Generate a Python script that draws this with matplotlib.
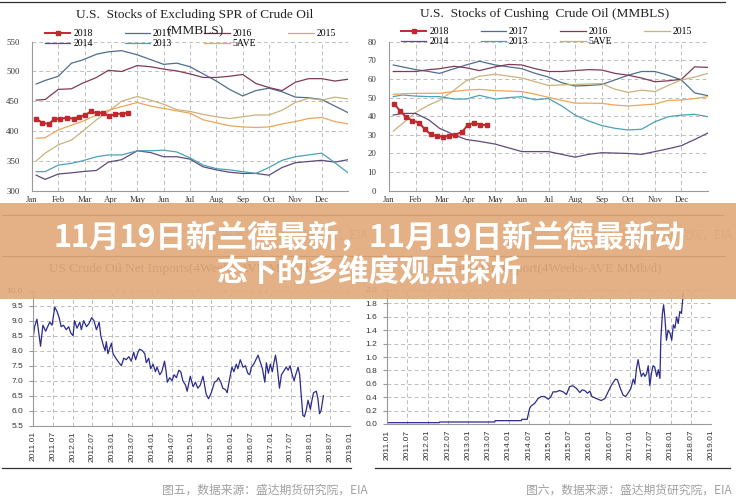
import numpy as np
import matplotlib
matplotlib.use('Agg')
import matplotlib.pyplot as plt
from matplotlib.patches import Rectangle
from matplotlib.lines import Line2D

W, H = 736, 503
SERIF = 'Liberation Serif'
SANS = 'Liberation Sans'
CJK = ['Noto Sans CJK SC', 'DejaVu Sans']

#%% Datos - stocks (x en meses, Jan = 0)
months = ['Jan', 'Feb', 'Mar', 'Apr', 'May', 'Jun', 'Jul', 'Aug', 'Sep', 'Oct', 'Nov', 'Dec']
season_x = [0.16, 0.5, 1.0, 1.5, 1.9, 2.45, 2.9, 3.4, 4.0, 4.5, 5.0, 5.5, 6.0,
            6.5, 7.0, 7.5, 8.0, 8.5, 9.0, 9.5, 10.0, 10.5, 11.0, 11.5, 12.0]

ex_2018_x = [0.16, 0.38, 0.63, 0.85, 1.05, 1.33, 1.58, 1.79, 2.02, 2.24, 2.46, 2.69, 2.94, 3.16, 3.41, 3.66]
ex_2018 = [421, 414, 412, 420, 421, 422, 421, 424, 427, 433, 430, 431, 425, 429, 429, 431]
ex_2017 = [479, 485, 492, 514, 519, 529, 533, 535, 528, 520, 512, 514, 508,
           496, 484, 470, 459, 468, 472, 466, 457, 456, 453, 442, 431]
ex_2016 = [452, 453, 470, 471, 480, 490, 502, 500, 510, 508, 504, 501, 496,
           490, 490, 492, 495, 480, 473, 468, 482, 488, 488, 484, 487]
ex_2015 = [350, 363, 377, 385, 399, 419, 433, 450, 458, 452, 445, 436, 433,
           428, 424, 421, 424, 427, 427, 435, 448, 455, 452, 457, 454]
ex_2014 = [326, 319, 328, 330, 332, 334, 348, 352, 367, 364, 357, 357, 353,
           340, 335, 331, 329, 329, 326, 339, 347, 349, 351, 348, 352]
ex_2013 = [332, 332, 343, 346, 350, 357, 360, 360, 367, 367, 368, 365, 355,
           343, 337, 335, 332, 329, 339, 351, 357, 360, 363, 347, 330]
ex_5ave = [388, 389, 402, 410, 416, 427, 435, 441, 448, 442, 438, 434, 430,
           419, 414, 409, 407, 406, 407, 412, 416, 421, 423, 416, 412]

cu_2018_x = [0.20, 0.41, 0.63, 0.88, 1.13, 1.35, 1.58, 1.79, 2.04, 2.25, 2.48, 2.76, 2.96, 3.21, 3.43, 3.67]
cu_2018 = [46.5, 43, 39.7, 37.6, 36.5, 32.9, 30.2, 29.4, 29, 29.4, 29.9, 31.7, 35.3, 36.5, 35.3, 35.3]
cu_2017 = [67.5, 66.5, 65, 64, 63, 65.5, 67.5, 69.5, 67.5, 66.5, 65.5, 63, 61,
           58, 56.2, 56.5, 57, 59.5, 62, 64, 64, 62, 59.5, 52.5, 51]
cu_2016 = [64, 64, 64, 65, 65.5, 66.8, 66, 64.5, 66.5, 67.8, 67.5, 65.5, 64,
           64, 64.5, 65, 64.8, 63, 62, 60.5, 58.5, 59, 59.8, 66.5, 66.2]
cu_2015 = [32, 36, 42, 46, 48.5, 54, 59, 61.5, 62.5, 61.5, 60.5, 58.5, 56.5,
           56.8, 57, 57.3, 57.5, 54.5, 52.8, 54, 53.2, 56.5, 59.5, 61, 63]
cu_2014 = [40.6, 41.5, 41.5, 38, 33.5, 30, 27.5, 26.5, 25, 23, 21, 21, 21,
           19.5, 18, 19.5, 20.4, 20.2, 20, 19.5, 21, 22.5, 24.2, 27.5, 31]
cu_2013 = [50.5, 51.4, 50.8, 50.5, 50.5, 49.2, 49.2, 51.2, 49.2, 50, 50.5, 48.8, 49.5,
           45.5, 40.6, 37.5, 35, 33.5, 32.6, 33, 37, 39.7, 40.6, 41, 39.7]
cu_5ave = [51.7, 52, 52.3, 52.3, 52.3, 53.3, 54, 54.4, 53.7, 53.5, 53.2, 51.8, 50.1,
           48.5, 47, 47, 46.9, 46, 45.5, 46, 46.5, 48.5, 48.7, 49.5, 50.5]

#%% Datos - importaciones / exportaciones (x en años)
imp_t = [2011.00, 2011.04, 2011.10, 2011.19, 2011.25, 2011.32, 2011.42, 2011.48, 2011.55, 2011.61,
         2011.66, 2011.71, 2011.77, 2011.84, 2011.90, 2011.95, 2012.01, 2012.05, 2012.11, 2012.18,
         2012.22, 2012.28, 2012.35, 2012.41, 2012.48, 2012.54, 2012.60, 2012.67, 2012.71, 2012.77,
         2012.82, 2012.85, 2012.89, 2012.98, 2013.02, 2013.09, 2013.17, 2013.23, 2013.29, 2013.35,
         2013.42, 2013.48, 2013.54, 2013.59, 2013.65, 2013.69, 2013.76, 2013.82, 2013.86, 2013.92,
         2013.97, 2014.03, 2014.09, 2014.13, 2014.20, 2014.25, 2014.32, 2014.36, 2014.39, 2014.45,
         2014.51, 2014.56, 2014.62, 2014.68, 2014.73, 2014.78, 2014.85, 2014.89, 2014.97, 2015.04,
         2015.10, 2015.16, 2015.22, 2015.29, 2015.37, 2015.43, 2015.50, 2015.58, 2015.64, 2015.68,
         2015.74, 2015.79, 2015.86, 2015.90, 2015.96, 2016.02, 2016.07, 2016.13, 2016.17, 2016.23,
         2016.30, 2016.36, 2016.42, 2016.47, 2016.51, 2016.57, 2016.68, 2016.74, 2016.79, 2016.85,
         2016.89, 2016.94, 2016.99, 2017.04, 2017.08, 2017.12, 2017.16, 2017.22, 2017.27, 2017.32,
         2017.39, 2017.44, 2017.49, 2017.53, 2017.59, 2017.63, 2017.69, 2017.73, 2017.77, 2017.81,
         2017.85, 2017.90, 2017.94, 2018.00, 2018.04, 2018.08, 2018.15, 2018.19, 2018.23, 2018.27,
         2018.33]
imp_v = [8.40, 8.80, 9.05, 8.15, 8.85, 8.65, 8.95, 8.85, 9.45, 9.30,
         9.10, 8.80, 8.85, 8.70, 8.80, 8.60, 8.50, 9.00, 8.75, 8.95,
         8.70, 9.00, 8.80, 8.90, 9.10, 9.00, 8.70, 8.95, 8.50, 8.20,
         8.00, 8.30, 7.90, 8.25, 7.90, 7.75, 7.60, 7.50, 7.75, 7.70,
         7.80, 7.65, 7.95, 7.70, 7.95, 8.05, 8.00, 7.90, 7.60, 7.75,
         7.40, 7.55, 7.30, 7.45, 7.20, 7.30, 7.65, 7.30, 6.95, 7.10,
         7.00, 7.20, 7.10, 7.35, 7.30, 7.00, 6.85, 6.65, 7.15, 6.80,
         6.95, 6.75, 6.85, 7.15, 6.55, 6.40, 6.60, 6.95, 7.00, 7.10,
         6.95, 6.75, 6.70, 6.60, 7.05, 7.45, 7.30, 7.55, 7.40, 7.70,
         7.45, 7.50, 7.25, 7.20, 7.45, 7.55, 7.85, 7.60, 7.40, 6.95,
         7.60, 7.25, 7.55, 7.30, 7.60, 7.85, 7.50, 6.75, 7.20, 7.30,
         7.45, 7.35, 7.50, 7.25, 7.00, 7.20, 7.45, 7.20, 6.50, 5.85,
         5.80, 6.05, 6.35, 6.05, 6.35, 6.60, 6.65, 6.40, 5.90, 6.00,
         6.50]

exp_t = [2011.00, 2012.29, 2012.30, 2013.66, 2013.67, 2014.32, 2014.33, 2014.46, 2014.52, 2014.56,
         2014.65, 2014.73, 2014.81, 2014.89, 2014.98, 2015.04, 2015.10, 2015.18, 2015.26, 2015.35,
         2015.43, 2015.51, 2015.59, 2015.68, 2015.76, 2015.82, 2015.88, 2015.95, 2016.01, 2016.06,
         2016.17, 2016.29, 2016.38, 2016.46, 2016.54, 2016.64, 2016.69, 2016.75, 2016.83, 2016.89,
         2016.95, 2017.02, 2017.08, 2017.12, 2017.16, 2017.20, 2017.24, 2017.28, 2017.33, 2017.37,
         2017.41, 2017.45, 2017.49, 2017.53, 2017.57, 2017.61, 2017.66, 2017.70, 2017.74, 2017.76,
         2017.80, 2017.83, 2017.86, 2017.90, 2017.94, 2017.99, 2018.03, 2018.07, 2018.11, 2018.15,
         2018.19, 2018.23, 2018.27, 2018.30, 2018.32]
exp_v = [0.02, 0.02, 0.03, 0.03, 0.05, 0.05, 0.07, 0.07, 0.23, 0.27,
         0.31, 0.38, 0.41, 0.41, 0.37, 0.40, 0.48, 0.48, 0.50, 0.48,
         0.44, 0.56, 0.57, 0.53, 0.47, 0.51, 0.50, 0.46, 0.49, 0.41,
         0.38, 0.35, 0.38, 0.48, 0.58, 0.67, 0.66, 0.55, 0.43, 0.41,
         0.46, 0.53, 0.67, 0.60, 0.83, 0.96, 0.82, 0.71, 0.76, 0.71,
         0.75, 0.87, 0.57, 0.76, 0.87, 0.85, 0.71, 0.81, 0.68, 1.25,
         1.65, 1.78, 1.60, 1.25, 1.40, 1.35, 1.25, 1.48, 1.43, 1.60,
         1.50, 1.68, 1.65, 1.85, 1.95]
year_ticks = [2011 + 0.5 * i for i in range(17)]
year_labels = ['%d.%s' % (2011 + i // 2, '01' if i % 2 == 0 else '07') for i in range(17)]

# colores
c18, c17, c16, c15 = '#C1272D', '#4E6E90', '#7E3B58', '#C9B27C'
c14, c13, cave = '#5F4A7C', '#4AA2B8', '#EBA65A'
cnavy = '#2B2B8E'
cgrid = '#BDBDBD'

#%% Funciones
def px_ax(l, t, r, b):
    return fig.add_axes([l / W, 1 - b / H, (r - l) / W, (b - t) / H])

def hline(y, x0, x1):
    fig.add_artist(Line2D([x0 / W, x1 / W], [1 - y / H, 1 - y / H], transform=fig.transFigure,
                          color='#333333', lw=0.9))

def style_ax(ax, fam, size):
    ax.grid(True, color=cgrid, ls=(0, (4, 3)), lw=0.7)
    ax.set_axisbelow(True)
    for s in ['top', 'right']:
        ax.spines[s].set_visible(False)
    for s in ['left', 'bottom']:
        ax.spines[s].set_color('#9A9A9A')
        ax.spines[s].set_linewidth(0.8)
    for lab in ax.get_xticklabels() + ax.get_yticklabels():
        lab.set_family(fam)
        lab.set_fontsize(size)
        lab.set_color('#333333')

def season_chart(ax, x18, y18, s17, s16, s15, s14, s13, save, ylim, ystep):
    h18, = ax.plot(x18, y18, color=c18, lw=1.4, marker='s', ms=3.2, label='2018', zorder=5)
    h17, = ax.plot(season_x, s17, color=c17, lw=0.9, label='2017')
    h16, = ax.plot(season_x, s16, color=c16, lw=0.9, label='2016')
    h15, = ax.plot(season_x, s15, color=c15, lw=0.9, label='2015')
    h14, = ax.plot(season_x, s14, color=c14, lw=0.9, label='2014')
    h13, = ax.plot(season_x, s13, color=c13, lw=0.9, label='2013')
    hav, = ax.plot(season_x, save, color=cave, lw=0.9, label='5AVE')
    ax.set_xlim(0, 12)
    ax.set_ylim(*ylim)
    ax.set_xticks(range(13))
    ax.set_xticklabels(months + [''])
    ax.set_yticks(np.arange(ylim[0], ylim[1] + 1, ystep))
    ax.tick_params(axis='both', length=0)
    ax.tick_params(axis='x', pad=4)
    ax.tick_params(axis='y', pad=9)
    style_ax(ax, SERIF, 6.3)
    return [h18, h14, h17, h13, h16, hav, h15]

def add_legend(ax, handles, x0, y0):
    leg = ax.legend(handles=handles, ncol=4, loc='upper left', frameon=False,
                    bbox_to_anchor=(x0 / W, 1 - y0 / H), bbox_transform=fig.transFigure,
                    prop={'family': SERIF, 'size': 7}, handlelength=2.6, handletextpad=0.3,
                    columnspacing=3.3, labelspacing=0.15, borderpad=0, borderaxespad=0,
                    numpoints=1, markerscale=1.0)
    leg.set_zorder(6)

#%% Figura
fig = plt.figure(figsize=(W / 100, H / 100), dpi=100)
fig.patch.set_facecolor('white')

# graficos superiores
ax1 = px_ax(32, 41.7, 348, 190.7)
hs = season_chart(ax1, ex_2018_x, ex_2018, ex_2017, ex_2016, ex_2015, ex_2014, ex_2013, ex_5ave, (300, 550), 50)
add_legend(ax1, hs, 45, 29)
fig.text(195 / W, 1 - 15 / H, 'U.S.  Stocks of Excluding SPR of Crude Oil', ha='center', va='center',
         family=SERIF, fontsize=9.6, color='#222222')
fig.text(195 / W, 1 - 31 / H, '(MMBLS)', ha='center', va='center', family=SERIF, fontsize=9.6, color='#222222')

ax2 = px_ax(389, 41.7, 708, 190.7)
hs = season_chart(ax2, cu_2018_x, cu_2018, cu_2017, cu_2016, cu_2015, cu_2014, cu_2013, cu_5ave, (0, 80), 10)
add_legend(ax2, hs, 401, 27)
fig.text(545 / W, 1 - 14 / H, 'U.S.  Stocks of Cushing  Crude Oil (MMBLS)', ha='center', va='center',
         family=SERIF, fontsize=9.6, color='#222222')

# graficos inferiores
ax3 = px_ax(33, 290.7, 350, 425.7)
ax3.plot(imp_t, imp_v, color=cnavy, lw=0.9)
ax3.set_xlim(2011, 2019)
ax3.set_ylim(5.5, 10.0)
ax3.set_yticks(np.arange(5.5, 10.01, 0.5))
ax3.set_yticklabels(['%.1f' % v for v in np.arange(5.5, 10.01, 0.5)])
ax3.set_xticks(year_ticks)
ax3.set_xticklabels(year_labels, rotation=90)
ax3.tick_params(axis='x', length=0, pad=4)
ax3.tick_params(axis='y', length=3, color='#9A9A9A', pad=4)
style_ax(ax3, SANS, 6)
fig.text(49 / W, 1 - 269 / H, 'US Crude Oil Net Imports(4Weeks-AVE MMb/d)', ha='left', va='center',
         family=SERIF, fontsize=9.5, color='#444444')

ax4 = px_ax(387, 290, 711, 424)
ax4.plot(exp_t, exp_v, color=cnavy, lw=0.9)
ax4.set_xlim(2011, 2019)
ax4.set_ylim(0, 2.0)
ax4.set_yticks(np.arange(0, 2.01, 0.2))
ax4.set_yticklabels(['%.1f' % v for v in np.arange(0, 2.01, 0.2)])
ax4.set_xticks(year_ticks)
ax4.set_xticklabels(year_labels, rotation=90)
ax4.tick_params(axis='x', length=0, pad=4)
ax4.tick_params(axis='y', length=3, color='#9A9A9A', pad=4)
style_ax(ax4, SANS, 6)
fig.text(425 / W, 1 - 269 / H, 'US Crude Oil Export(4Weeks-AVE MMb/d)', ha='left', va='center',
         family=SERIF, fontsize=9.5, color='#444444')

# lineas separadoras y pies de figura
hline(2, 0, 725)
hline(215, 2, 723)
hline(256, 2, 725)
hline(468, 2, 351)
hline(468, 375, 730)
fig.text(368 / W, 1 - 235 / H, '图三，数据来源：盛达期货研究院，EIA', ha='right', va='center',
         family=CJK, fontsize=8.5, color='#A0A0A0')
fig.text(732 / W, 1 - 235 / H, '图四，数据来源：盛达期货研究院，EIA', ha='right', va='center',
         family=CJK, fontsize=8.5, color='#A0A0A0')
fig.text(368 / W, 1 - 490 / H, '图五，数据来源：盛达期货研究院，EIA', ha='right', va='center',
         family=CJK, fontsize=8.5, color='#A0A0A0')
fig.text(732 / W, 1 - 490 / H, '图六，数据来源：盛达期货研究院，EIA', ha='right', va='center',
         family=CJK, fontsize=8.5, color='#A0A0A0')

# banda con titular
fig.add_artist(Rectangle((0, 1 - 299 / H), 1, 96 / H, transform=fig.transFigure,
                         facecolor='#E2A979', alpha=0.9, edgecolor='none', zorder=10))
fig.text(369 / W, 1 - 238 / H, '11月19日新兰德最新，11月19日新兰德最新动', ha='center', va='center',
         family=CJK, fontsize=22, fontweight='bold', color='white', zorder=11)
fig.text(369 / W, 1 - 272 / H, '态下的多维度观点探析', ha='center', va='center',
         family=CJK, fontsize=22, fontweight='bold', color='white', zorder=11)

fig.savefig('out.png', dpi=100)
